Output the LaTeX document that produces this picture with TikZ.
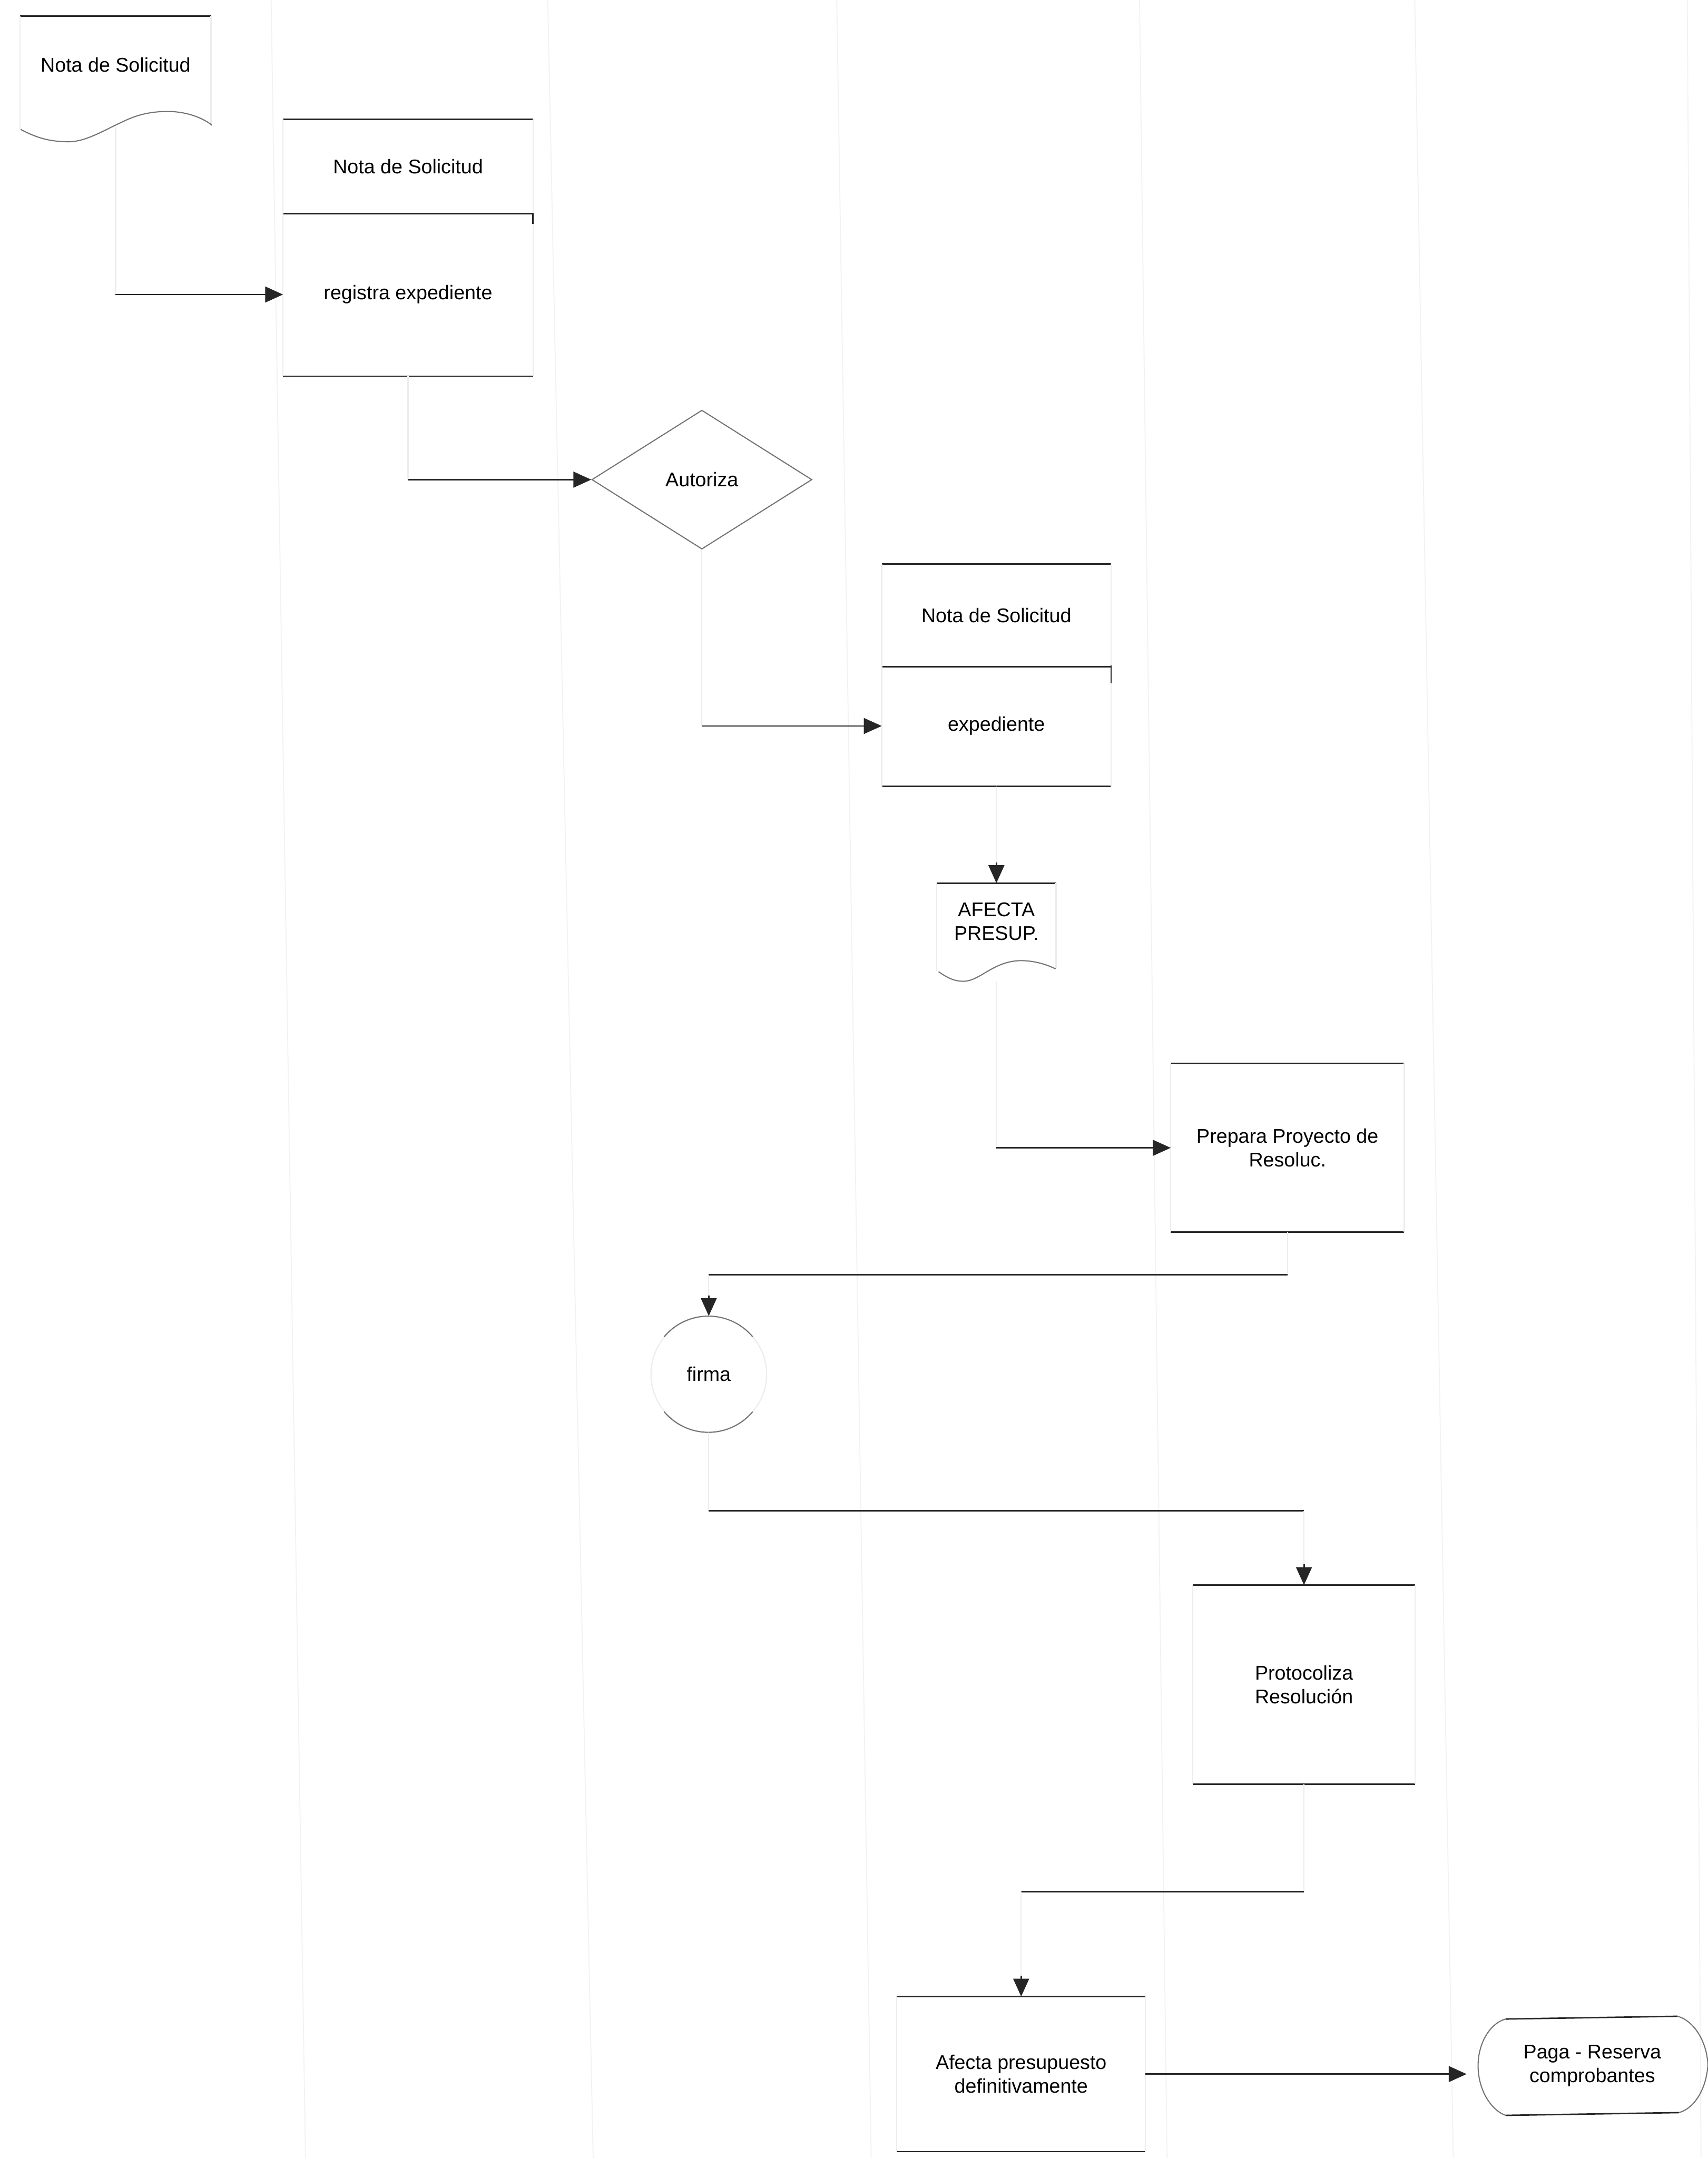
\documentclass[tikz,border=0pt]{standalone}
\usepackage{fontspec}
\setmainfont{Liberation Sans}
\usetikzlibrary{arrows.meta,shapes.geometric,calc}

\begin{document}
\begin{tikzpicture}[x=0.02cm, y=-0.02cm,
  every node/.style={font=\fontsize{8.2}{9.8}\selectfont, align=center, inner sep=0pt},
  frame/.style={rectangle, draw=none},
  hline/.style={draw=black!85, line width=0.6pt},
  faint/.style={draw=black!7, line width=0.5pt},
  lane/.style={draw=black!5, line width=0.4pt},
  outline/.style={draw=black!55, line width=0.45pt},
  flow/.style={hline, -{Triangle[length=0.26cm, width=0.23cm]}},
  dec/.style={diamond, aspect=1.58, outline}
]
\fill[white] (0,0) rectangle (1241,1568);
\useasboundingbox (0,0) rectangle (1241,1568);

% swimlane separators
\draw[lane] (197,0) -- (222,1568);
\draw[lane] (398,0) -- (431,1568);
\draw[lane] (608,0) -- (633,1568);
\draw[lane] (828,0) -- (848,1568);
\draw[lane] (1028,0) -- (1056,1568);
\draw[lane] (1226,0) -- (1236,1568);

% shapes
\node[frame, minimum width=2.76cm, minimum height=1.4cm] (doc1) at (84,47) {Nota de Solicitud};
\node[frame, minimum width=3.62cm, minimum height=1.36cm] (nota2) at (296.5,121) {Nota de Solicitud};
\node[frame, minimum width=3.62cm, minimum height=2.36cm] (reg) at (296.5,214) {registra expediente};
\node[dec, minimum width=3.2cm, minimum height=2.02cm] (aut) at (510,348.5) {Autoriza};
\node[frame, minimum width=3.32cm, minimum height=1.48cm] (nota3) at (724,447) {Nota de Solicitud};
\node[frame, minimum width=3.32cm, minimum height=1.74cm] (exp) at (724,527.5) {expediente};
\node[frame, minimum width=1.72cm, minimum height=1.1cm] (afecta) at (724,669.5) {AFECTA\\PRESUP.};
\node[frame, minimum width=3.38cm, minimum height=2.44cm] (prep) at (935.5,834) {Prepara Proyecto de\\Resoluc.};
\node[circle, minimum size=1.68cm] (firma) at (515,998.5) {firma};
\node[frame, minimum width=3.22cm, minimum height=2.88cm] (prot) at (947.5,1224) {Protocoliza\\Resolución};
\node[frame, minimum width=3.6cm, minimum height=2.24cm] (afdef) at (742,1507) {Afecta presupuesto\\definitivamente};
\node[frame, minimum width=3.32cm, minimum height=1.4cm] (paga) at (1157,1501) {Paga - Reserva\\comprobantes};

% document: Nota de Solicitud
\draw[hline] (doc1.north west) -- (doc1.north east);
\draw[faint] (doc1.north west) -- ++(0,82);
\draw[faint] (doc1.north east) -- ++(0,79);
\draw[outline] (15,94) .. controls (28,101) and (38,103) .. (50,103)
  .. controls (62,103) and (75,95) .. (88,89)
  .. controls (100,83) and (110,81) .. (122,81)
  .. controls (136,81) and (148,86) .. (154,91);

% Nota de Solicitud / registra expediente
\draw[hline] (nota2.north west) -- (nota2.north east);
\draw[hline] (nota2.south west) -- (nota2.south east);
\draw[hline] (reg.south west) -- (reg.south east);
\draw[faint] (nota2.north west) -- (reg.south west);
\draw[faint] (nota2.north east) -- (reg.south east);
\draw[hline] (reg.north east) -- ++(0,8);

% Nota de Solicitud / expediente
\draw[hline] (nota3.north west) -- (nota3.north east);
\draw[hline] (nota3.south west) -- (nota3.south east);
\draw[hline] (exp.south west) -- (exp.south east);
\draw[faint] (nota3.north west) -- (exp.south west);
\draw[faint] (nota3.north east) -- (exp.south east);
\draw[hline] (exp.north east) -- ++(0,13);

% document: AFECTA PRESUP.
\draw[hline] (afecta.north west) -- (afecta.north east);
\draw[faint] (afecta.north west) -- ++(0,64);
\draw[faint] (afecta.north east) -- ++(0,62);
\draw[outline] (682,706) .. controls (689,711) and (694,713) .. (700,713)
  .. controls (712,713) and (722,698) .. (742,698)
  .. controls (752,698) and (761,701) .. (767,704);

% Prepara Proyecto de Resoluc.
\draw[hline] (prep.north west) -- (prep.north east);
\draw[hline] (prep.south west) -- (prep.south east);
\draw[faint] (prep.north west) -- (prep.south west);
\draw[faint] (prep.north east) -- (prep.south east);

% firma: only the upper and lower arcs stay dark
\draw[faint] (firma.center) circle[radius=42];
\draw[outline] (firma.140) arc[start angle=-140, end angle=-40, radius=42];
\draw[outline] (firma.220) arc[start angle=140, end angle=40, radius=42];

% Protocoliza Resolucion
\draw[hline] (prot.north west) -- (prot.north east);
\draw[hline] (prot.south west) -- (prot.south east);
\draw[faint] (prot.north west) -- (prot.south west);
\draw[faint] (prot.north east) -- (prot.south east);

% Afecta presupuesto definitivamente
\draw[hline] (afdef.north west) -- (afdef.north east);
\draw[hline] (afdef.south west) -- (afdef.south east);
\draw[faint] (afdef.north west) -- (afdef.south west);
\draw[faint] (afdef.north east) -- (afdef.south east);

% terminal: Paga - Reserva comprobantes
\draw[hline] (1094,1467) -- (1219,1465);
\draw[hline] (1094,1537) -- (1220,1535);
\draw[outline] (1219,1465) .. controls (1230,1468) and (1240,1482) .. (1241,1500)
  .. controls (1240,1518) and (1231,1532) .. (1220,1535);
\draw[outline] (1094,1537) .. controls (1083,1533) and (1074,1518) .. (1074,1501)
  .. controls (1074,1484) and (1083,1470) .. (1094,1467);

% connectors
\coordinate (c1) at (doc1.south |- reg.west);
\draw[faint] ($(doc1.south)+(0,10)$) -- (c1);
\draw[flow] (c1) -- (reg.west);

\coordinate (c2) at (reg.south |- aut.west);
\draw[faint] (reg.south) -- (c2);
\draw[flow] (c2) -- (aut.west);

\coordinate (c3) at (aut.south |- exp.west);
\draw[faint] (aut.south) -- (c3);
\draw[flow] (c3) -- (exp.west);

\coordinate (c4) at ($(afecta.north)+(0,-15)$);
\draw[faint] (exp.south) -- (c4);
\draw[flow] (c4) -- (afecta.north);

\coordinate (c5) at (afecta.south |- prep.west);
\draw[faint] ($(afecta.south)+(0,16)$) -- (c5);
\draw[flow] (c5) -- (prep.west);

\coordinate (c6a) at ($(prep.south)+(0,31)$);
\coordinate (c6b) at (firma.north |- c6a);
\coordinate (c6c) at ($(firma.north)+(0,-15)$);
\draw[faint] (prep.south) -- (c6a);
\draw[hline] (c6a) -- (c6b);
\draw[faint] (c6b) -- (c6c);
\draw[flow] (c6c) -- (firma.north);

\coordinate (c7a) at ($(firma.south)+(0,57)$);
\coordinate (c7b) at (prot.north |- c7a);
\coordinate (c7c) at ($(prot.north)+(0,-15)$);
\draw[faint] (firma.south) -- (c7a);
\draw[hline] (c7a) -- (c7b);
\draw[faint] (c7b) -- (c7c);
\draw[flow] (c7c) -- (prot.north);

\coordinate (c8a) at ($(prot.south)+(0,78)$);
\coordinate (c8b) at (afdef.north |- c8a);
\coordinate (c8c) at ($(afdef.north)+(0,-15)$);
\draw[faint] (prot.south) -- (c8a);
\draw[hline] (c8a) -- (c8b);
\draw[faint] (c8b) -- (c8c);
\draw[flow] (c8c) -- (afdef.north);

\draw[flow, shorten >=0.16cm] (afdef.east) -- (afdef.east -| paga.west);
\end{tikzpicture}
\end{document}
